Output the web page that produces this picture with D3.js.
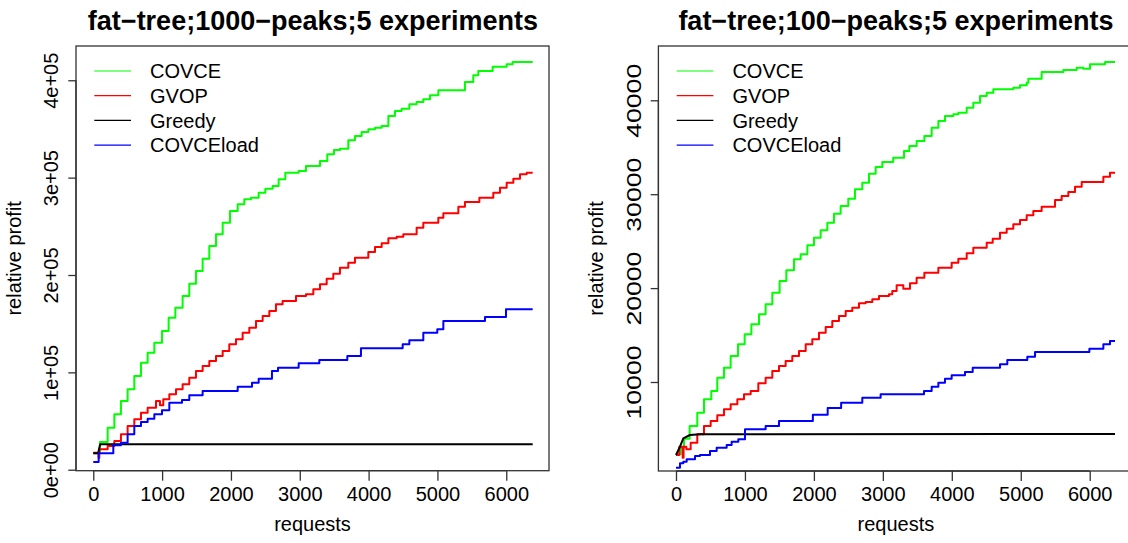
<!DOCTYPE html>
<html><head><meta charset="utf-8">
<script src="https://cdn.jsdelivr.net/npm/d3@7"></script>
<style>html,body{margin:0;padding:0;background:#fff;} svg{display:block;}</style>
</head><body>
<svg id="chart" width="1128" height="543"></svg>
<script>
// ---------------- DATA ----------------
const seriesNames = ["COVCE", "GVOP", "Greedy", "COVCEload"];
const seriesColors = ["#00ff00", "#ff0000", "#000000", "#0000ff"];
const xTicks = [0, 1000, 2000, 3000, 4000, 5000, 6000];

const leftTitle = "fat\u2212tree;1000\u2212peaks;5 experiments";
const leftYTicks = [0, 100000, 200000, 300000, 400000];
const leftYTickLabels = ["0e+00", "1e+05", "2e+05", "3e+05", "4e+05"];

const leftCovceX = [0,97,209,306,402,499,596,693,790,887,998,1095,1192,1298,1395,1492,1589,1686,1783,1880,1986,2098,2194,2291,2403,2500,2606,2693,2790,2984,3090,3294,3400,3497,3584,3705,3802,3899,3996,4093,4190,4287,4383,4480,4592,4698,4795,4892,5013,5400,5521,5594,5802,6006,6093,6384];
const leftCovceY = [16800,28450,43170,56870,70570,82550,96250,109940,120220,130490,142470,156170,166440,178430,191090,204110,216770,229780,241770,253750,265740,272590,277720,279430,284570,288680,291420,298270,305110,306830,311960,317100,323950,328400,329760,338330,342780,346890,349630,351340,353050,363320,368460,370850,375310,377700,380440,384550,389690,398250,405100,409550,414000,416400,418790,418790];

const leftGvopX = [0,78,88,209,306,402,499,596,693,790,911,969,1017,1105,1202,1298,1395,1492,1589,1686,1783,1880,1976,2073,2170,2267,2364,2461,2558,2654,2751,2945,3090,3197,3294,3391,3487,3584,3705,3802,3996,4093,4190,4287,4408,4504,4698,4795,5013,5086,5304,5400,5609,5812,5909,6006,6103,6200,6297,6384];
const leftGvopY = [17490,12360,20920,24340,29480,36330,44890,51740,58580,63720,70570,66120,72280,77420,82550,87690,94530,101380,106520,111660,116790,121930,128780,133920,140760,145890,152740,157880,163020,169870,173290,178430,180140,185280,190410,196230,201360,207530,212660,217800,223620,228760,232530,237660,239370,241770,248620,253750,258890,263340,270190,274980,279430,284570,289700,294840,298950,303410,305110,305110];

const leftGreedyX = [0,70,100,6384];
const leftGreedyY = [16800,16800,26100,26100];

const leftLoadX = [0,78,291,402,499,596,693,790,887,998,1105,1289,1395,1589,2098,2306,2403,2596,2684,2984,3284,3691,3889,4495,4592,4795,4998,5086,5691,5996,6384];
const leftLoadY = [7910,16810,25030,27770,36330,44890,49000,52420,56870,60990,68860,71600,76390,80840,85290,89400,93510,101380,104810,109260,112680,116790,124670,128780,132890,140760,144190,152740,156850,164730,164730];

const rightTitle = "fat\u2212tree;100\u2212peaks;5 experiments";
const rightYTicks = [10000, 20000, 30000, 40000];
const rightYTickLabels = ["10000", "20000", "30000", "40000"];

const rightCovceX = [0,68,116,198,309,406,512,599,696,793,899,996,1093,1204,1300,1397,1503,1600,1711,1808,1905,2001,2098,2195,2291,2388,2499,2596,2702,2799,2896,2992,3150,3307,3384,3490,3602,3708,3805,3901,4022,4095,4216,4312,4409,4506,4602,4892,4989,5086,5110,5303,5618,5811,5908,6004,6222,6367];
const rightCovceY = [2297,3006,3965,5314,6734,8154,9042,10461,11526,12769,14012,15077,16142,17207,18272,19514,20757,21893,23064,23597,24555,25372,26153,26969,27927,28744,29525,30519,31229,32187,32898,33430,33891,34602,35134,35667,36199,37087,37797,38329,38507,38684,39217,39749,40459,40814,41169,41347,41595,41879,42305,43015,43228,43476,43370,43832,44080,44080];

const rightGvopX = [0,48,97,110,150,213,309,406,503,599,696,793,890,986,1083,1194,1300,1397,1494,1590,1687,1784,1881,1977,2074,2171,2267,2364,2461,2557,2654,2751,2847,2944,3089,3137,3200,3297,3394,3490,3602,3805,3998,4095,4216,4312,4506,4593,4699,4796,4892,4989,5086,5182,5303,5497,5593,5690,5787,5884,6198,6294,6367];
const rightGvopY = [2226,3113,1940,3113,2830,3539,4427,5314,5847,6450,7089,7622,8154,8687,9042,9858,10461,11172,11704,12237,12769,13302,14012,14544,15254,15858,16497,17029,17562,17916,18378,18520,18804,19159,19337,19692,20295,19940,20508,21111,21644,22176,22709,23135,23703,24306,24839,25265,25904,26330,26792,27253,27750,28212,28673,29383,29809,30235,30803,31300,31868,32294,32294];

const rightGreedyX = [0,58,106,203,348,6367];
const rightGreedyY = [2226,3113,4000,4356,4427,4460];

const rightLoadX = [0,58,106,155,276,348,493,590,735,807,904,1001,1300,1494,1985,2200,2395,2702,2968,3597,3708,3805,3901,3998,4191,4303,4699,4805,5095,5207,5995,6198,6294,6367];
const rightLoadY = [876,1338,1515,1764,2119,2226,2652,3006,3290,3645,3894,4959,5314,5847,6520,7230,7800,8331,8687,9042,9503,9929,10355,10710,11065,11526,11882,12343,12698,13195,13550,14012,14367,14367];

// ---------------- DRAW ----------------
const svg = d3.select("#chart");
const FONT = "'Liberation Sans', Arial, Helvetica, sans-serif";

function zip(xs, ys) { return xs.map((x, i) => ({x: x, y: ys[i]})); }

const panels = [
  {
    title: leftTitle, titleX: 313,
    xRange: [76, 549], xDomain: [-251, 6621],
    yRange: [470.7, 46], yDomain: [-1000, 435200],
    yTicks: leftYTicks, yLabels: leftYTickLabels, yLabelSize: 20, yLabelLen: null,
    series: [
      {data: zip(leftCovceX, leftCovceY), curve: d3.curveStepAfter},
      {data: zip(leftGvopX, leftGvopY), curve: d3.curveStepAfter},
      {data: zip(leftGreedyX, leftGreedyY), curve: d3.curveLinear},
      {data: zip(leftLoadX, leftLoadY), curve: d3.curveStepAfter}
    ]
  },
  {
    title: rightTitle, titleX: 896,
    xRange: [658.4, 1133.5], xDomain: [-255, 6635],
    yRange: [471, 46], yDomain: [522, 45783],
    yTicks: rightYTicks, yLabels: rightYTickLabels, yLabelSize: 21, yLabelLen: 74,
    series: [
      {data: zip(rightCovceX, rightCovceY), curve: d3.curveStepAfter},
      {data: zip(rightGvopX, rightGvopY), curve: d3.curveStepAfter},
      {data: zip(rightGreedyX, rightGreedyY), curve: d3.curveLinear},
      {data: zip(rightLoadX, rightLoadY), curve: d3.curveStepAfter}
    ]
  }
];

panels.forEach((p, pi) => {
  const x = d3.scaleLinear().domain(p.xDomain).range(p.xRange);
  const y = d3.scaleLinear().domain(p.yDomain).range(p.yRange);
  const g = svg.append("g");
  const left = p.xRange[0], right = p.xRange[1], top = p.yRange[1], bottom = p.yRange[0];

  // title
  g.append("text").attr("x", p.titleX).attr("y", 30)
    .attr("text-anchor", "middle").attr("font-family", FONT)
    .attr("font-weight", "bold").attr("font-size", 27).attr("fill", "#000")
    .text(p.title);

  // series
  p.series.forEach((s, si) => {
    const line = d3.line().x(d => x(d.x)).y(d => y(d.y)).curve(s.curve);
    g.append("path").datum(s.data).attr("d", line)
      .attr("fill", "none").attr("stroke", seriesColors[si])
      .attr("stroke-width", 2).attr("stroke-linejoin", "round");
  });

  // box
  g.append("rect").attr("x", left).attr("y", top)
    .attr("width", right - left).attr("height", bottom - top)
    .attr("fill", "none").attr("stroke", "#333").attr("stroke-width", 1.3);

  // x axis
  const xAxis = d3.axisBottom(x).tickValues(xTicks).tickSize(10).tickPadding(8).tickFormat(d3.format("d"));
  const xa = g.append("g").attr("transform", `translate(0,${bottom})`).call(xAxis);
  xa.select(".domain").attr("d", `M${x(xTicks[0])},0H${x(xTicks[xTicks.length-1])}`).attr("stroke", "#333").attr("stroke-width", 1.3);
  xa.selectAll(".tick line").attr("stroke", "#333").attr("stroke-width", 1.3);
  xa.selectAll(".tick text").attr("font-family", FONT).attr("font-size", 20).attr("fill", "#000")
    .attr("dy", null).attr("y", 30);

  // y axis
  const yAxis = d3.axisLeft(y).tickValues(p.yTicks).tickSize(7.7).tickFormat((d, i) => p.yLabels[i]);
  const ya = g.append("g").attr("transform", `translate(${left},0)`).call(yAxis);
  ya.select(".domain").attr("d", `M0,${y(p.yTicks[0])}V${y(p.yTicks[p.yTicks.length-1])}`).attr("stroke", "#333").attr("stroke-width", 1.3);
  ya.selectAll(".tick line").attr("stroke", "#333").attr("stroke-width", 1.3);
  const yt = ya.selectAll(".tick text").attr("font-family", FONT).attr("font-size", p.yLabelSize).attr("fill", "#000")
    .attr("x", null).attr("dy", null).attr("text-anchor", "middle")
    .attr("transform", "translate(-17.7,0) rotate(-90)");
  if (p.yLabelLen) yt.attr("textLength", p.yLabelLen).attr("lengthAdjust", "spacingAndGlyphs");

  // axis labels
  g.append("text").attr("x", (left + Math.min(right, 1128)) / 2 + (pi === 1 ? (1133.5 - 1128) / 2 : 0)).attr("y", 531)
    .attr("text-anchor", "middle").attr("font-family", FONT).attr("font-size", 20).text("requests");
  g.append("text").attr("transform", `translate(${left - 55},${(top + bottom) / 2}) rotate(-90)`)
    .attr("text-anchor", "middle").attr("font-family", FONT).attr("font-size", 20).text("relative profit");

  // legend
  const lg = g.append("g");
  seriesNames.forEach((name, i) => {
    const ly = 71 + i * 24.7;
    lg.append("line").attr("x1", left + 18.3).attr("x2", left + 55).attr("y1", ly).attr("y2", ly)
      .attr("stroke", seriesColors[i]).attr("stroke-width", 1.2);
    lg.append("text").attr("x", left + 74).attr("y", ly + 7.3)
      .attr("font-family", FONT).attr("font-size", 20).attr("fill", "#000").text(name);
  });
});
</script>
</body></html>
